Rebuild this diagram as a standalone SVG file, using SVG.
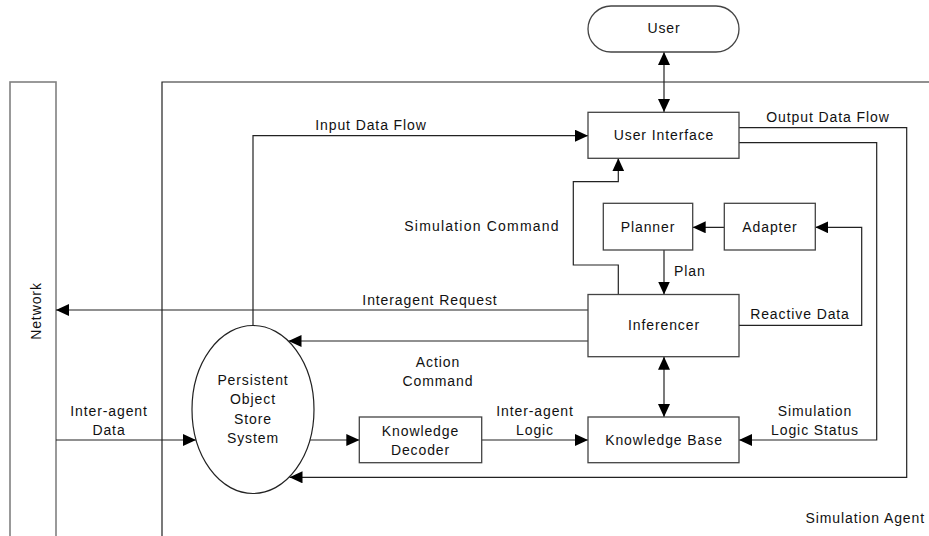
<svg xmlns="http://www.w3.org/2000/svg" width="929" height="536" viewBox="0 0 929 536">
  <style>
    text { font-family: "Liberation Sans", Arial, sans-serif; font-size: 14px; letter-spacing: 0.9px; fill: #111; }
    .c { text-anchor: middle; }
    .box { fill: #fff; stroke: #444; stroke-width: 1.3; }
    .edge { fill: none; stroke: #222; stroke-width: 1.2; }
    .frame { fill: none; stroke: #222; stroke-width: 1.2; }
    .net { fill: none; stroke: #808080; stroke-width: 1.6; }
  </style>
  <defs>
    <marker id="arrow" viewBox="0 0 13 12" refX="13" refY="6" markerWidth="13" markerHeight="12" markerUnits="userSpaceOnUse" orient="auto-start-reverse">
      <path d="M0,0 L13,6 L0,12 Z" fill="#000"/>
    </marker>
  </defs>

  <rect width="929" height="536" fill="#fff"/>

  <!-- Network bus and Simulation Agent boundary -->
  <g id="network">
    <rect class="net" x="10" y="82" width="46" height="470"/>
    <text class="c" transform="translate(41,311) rotate(-90)">Network</text>
  </g>
  <g id="simulation-agent">
    <path class="frame" d="M162,545 V82 H935"/>
    <text x="925" y="523" text-anchor="end">Simulation Agent</text>
  </g>

  <!-- Connectors -->
  <g id="connectors">
    <!-- User <-> User Interface -->
    <line class="edge" x1="664" y1="52" x2="664" y2="112" marker-start="url(#arrow)" marker-end="url(#arrow)"/>
    <!-- Input Data Flow -->
    <path class="edge" d="M253,326 V135.7 H588" marker-end="url(#arrow)"/>
    <!-- Output Data Flow -->
    <path class="edge" d="M739,127.7 H906.7 V477.3 H289.5" marker-end="url(#arrow)"/>
    <!-- Simulation Logic Status -->
    <path class="edge" d="M739,142.7 H876.7 V440 H739" marker-end="url(#arrow)"/>
    <!-- Simulation Command -->
    <path class="edge" d="M618.3,294.5 V265 H573.3 V181.7 H618.3 V158.3" marker-end="url(#arrow)"/>
    <!-- Adapter -> Planner -->
    <line class="edge" x1="724.3" y1="227.3" x2="692.7" y2="227.3" marker-end="url(#arrow)"/>
    <!-- Reactive Data -->
    <path class="edge" d="M739,325.3 H861.7 V227.3 H815.3" marker-end="url(#arrow)"/>
    <!-- Plan -->
    <line class="edge" x1="664" y1="250" x2="664" y2="294.5" marker-end="url(#arrow)"/>
    <!-- Interagent Request -->
    <line class="edge" x1="588" y1="310" x2="56" y2="310" marker-end="url(#arrow)"/>
    <!-- Action Command -->
    <line class="edge" x1="588" y1="341" x2="288.5" y2="341" marker-end="url(#arrow)"/>
    <!-- Inferencer <-> Knowledge Base -->
    <line class="edge" x1="664" y1="356.7" x2="664" y2="417" marker-start="url(#arrow)" marker-end="url(#arrow)"/>
    <!-- Inter-agent Data -->
    <line class="edge" x1="56" y1="440" x2="196" y2="440" marker-end="url(#arrow)"/>
    <!-- Store -> Knowledge Decoder -->
    <line class="edge" x1="310" y1="440" x2="359.3" y2="440" marker-end="url(#arrow)"/>
    <!-- Inter-agent Logic -->
    <line class="edge" x1="481.7" y1="440" x2="588" y2="440" marker-end="url(#arrow)"/>
  </g>

  <!-- Connector labels -->
  <g id="labels">
    <text class="c" x="371" y="130">Input Data Flow</text>
    <text class="c" x="828" y="122">Output Data Flow</text>
    <text class="c" x="482" y="231" style="letter-spacing:1.2px">Simulation Command</text>
    <text x="674" y="276">Plan</text>
    <text class="c" x="430" y="305">Interagent Request</text>
    <text class="c" x="800" y="319">Reactive Data</text>
    <text class="c" x="438" y="366.5">Action</text>
    <text class="c" x="438" y="385.5">Command</text>
    <text class="c" x="109" y="416">Inter-agent</text>
    <text class="c" x="109" y="435">Data</text>
    <text class="c" x="535" y="416">Inter-agent</text>
    <text class="c" x="535" y="435">Logic</text>
    <text class="c" x="815" y="416">Simulation</text>
    <text class="c" x="815" y="435">Logic Status</text>
  </g>

  <!-- Nodes -->
  <g id="user">
    <rect class="box" x="588" y="6" width="151" height="46" rx="23" ry="23"/>
    <text class="c" x="664" y="33">User</text>
  </g>
  <g id="user-interface">
    <rect class="box" x="588" y="112.3" width="151" height="46"/>
    <text class="c" x="664" y="140">User Interface</text>
  </g>
  <g id="planner">
    <rect class="box" x="603.3" y="203.3" width="89.4" height="46.7"/>
    <text class="c" x="648" y="232">Planner</text>
  </g>
  <g id="adapter">
    <rect class="box" x="724.3" y="203.3" width="91" height="46.7"/>
    <text class="c" x="770" y="232">Adapter</text>
  </g>
  <g id="inferencer">
    <rect class="box" x="588" y="294.5" width="151" height="62.2"/>
    <text class="c" x="664" y="330">Inferencer</text>
  </g>
  <g id="knowledge-base">
    <rect class="box" x="588" y="417" width="151" height="45.7"/>
    <text class="c" x="664" y="445">Knowledge Base</text>
  </g>
  <g id="knowledge-decoder">
    <rect class="box" x="359.3" y="417" width="122.4" height="45.7"/>
    <text class="c" x="420.5" y="436">Knowledge</text>
    <text class="c" x="420.5" y="455">Decoder</text>
  </g>
  <g id="persistent-object-store">
    <ellipse cx="253" cy="409.5" rx="61" ry="84" fill="#fff" stroke="#222" stroke-width="1.2"/>
    <text class="c" x="253" y="385">Persistent</text>
    <text class="c" x="253" y="404">Object</text>
    <text class="c" x="253" y="424">Store</text>
    <text class="c" x="253" y="443">System</text>
  </g>
</svg>
